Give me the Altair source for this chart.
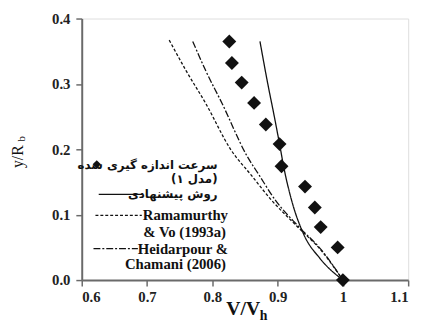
import altair as alt
import pandas as pd

# measured velocity (diamonds)
meas_x = [0.826, 0.830, 0.845, 0.864, 0.882, 0.903, 0.906, 0.942, 0.957, 0.966, 0.992, 1.0]
meas_y = [0.365, 0.332, 0.302, 0.271, 0.238, 0.208, 0.174, 0.143, 0.111, 0.081, 0.050, 0.0]

# proposed method (solid)
prop_x = [0.873, 0.885, 0.895, 0.903, 0.910, 0.922, 0.940, 0.965, 1.0]
prop_y = [0.365, 0.300, 0.250, 0.208, 0.170, 0.120, 0.070, 0.033, 0.0]

# Ramamurthy & Vo (1993a) (dashed)
ram_x = [0.734, 0.760, 0.790, 0.828, 0.860, 0.890, 0.930, 0.967, 1.0]
ram_y = [0.367, 0.320, 0.270, 0.200, 0.160, 0.123, 0.082, 0.045, 0.0]

# Heidarpour & Chamani (2006) (dash-dot)
hei_x = [0.770, 0.790, 0.815, 0.853, 0.872, 0.896, 0.932, 0.968, 1.0]
hei_y = [0.365, 0.320, 0.270, 0.190, 0.160, 0.123, 0.082, 0.045, 0.0]

x_ticks = [0.6, 0.7, 0.8, 0.9, 1.0, 1.1]
y_ticks = [0.0, 0.1, 0.2, 0.3, 0.4]

# legend content (placed in data coordinates)
fa_text = ["سرعت  اندازه  گیری  شده", "(مدل ۱)", "روش پیشنهادی"]
fa_x = [0.808, 0.808, 0.808]
fa_y = [0.176, 0.155, 0.131]
fa_size = [12, 12, 12]

en_text = ["Ramamurthy", "& Vo  (1993a)", "Heidarpour &", "Chamani (2006)"]
en_x = [0.824, 0.821, 0.824, 0.821]
en_y = [0.099, 0.073, 0.048, 0.024]

leg_line_series = ["prop", "prop", "ram", "ram", "hei", "hei"]
leg_line_x = [0.626, 0.693, 0.621, 0.692, 0.618, 0.686]
leg_line_y = [0.131, 0.131, 0.099, 0.099, 0.048, 0.048]

leg_diamond_x = [0.623]
leg_diamond_y = [0.177]

SERIF = "Times New Roman, Liberation Serif, DejaVu Serif, serif"
W, H = 332, 266

xs = alt.Scale(domain=[0.6, 1.1], nice=False, zero=False)
ys = alt.Scale(domain=[0.0, 0.4], nice=False, zero=False)

meas = pd.DataFrame({"x": meas_x, "y": meas_y})
lines = pd.concat([
    pd.DataFrame({"x": prop_x, "y": prop_y, "s": "prop"}),
    pd.DataFrame({"x": ram_x, "y": ram_y, "s": "ram"}),
    pd.DataFrame({"x": hei_x, "y": hei_y, "s": "hei"}),
])
legl = pd.DataFrame({"x": leg_line_x, "y": leg_line_y, "s": leg_line_series})
fa_df = pd.DataFrame({"x": fa_x, "y": fa_y, "t": fa_text, "sz": fa_size})
en_df = pd.DataFrame({"x": en_x, "y": en_y, "t": en_text})
legd = pd.DataFrame({"x": leg_diamond_x, "y": leg_diamond_y})

dash_scale = alt.Scale(domain=["prop", "ram", "hei"],
                       range=[[1, 0], [3, 2], [7, 2, 2, 2]])

x_enc = alt.X("x:Q", scale=xs, axis=alt.Axis(
    values=x_ticks, format="~g", title=None, grid=False,
    labelFont=SERIF, labelFontSize=15, labelFontWeight="bold", labelColor="#222",
    domainColor="#6a6a6a", domainWidth=2, tickColor="#6a6a6a", tickSize=6,
    tickWidth=1.5, labelPadding=4))
y_enc = alt.Y("y:Q", scale=ys, axis=alt.Axis(
    values=y_ticks, format=".1f", title=None, grid=False,
    labelFont=SERIF, labelFontSize=15, labelFontWeight="bold", labelColor="#222",
    domainColor="#6a6a6a", domainWidth=2, tickColor="#6a6a6a", tickSize=6,
    tickWidth=1.5, labelPadding=6))

base_lines = alt.Chart(lines).mark_line(color="#111", strokeWidth=1.3, interpolate="monotone").encode(
    x=x_enc, y=y_enc,
    strokeDash=alt.StrokeDash("s:N", scale=dash_scale, legend=None),
    detail="s:N", order="x:Q")

points = alt.Chart(meas).mark_point(shape="diamond", filled=True, size=200, color="#111", opacity=1).encode(
    x=alt.X("x:Q", scale=xs), y=alt.Y("y:Q", scale=ys))

leg_lines = alt.Chart(legl).mark_line(color="#111", strokeWidth=1.3).encode(
    x=alt.X("x:Q", scale=xs), y=alt.Y("y:Q", scale=ys),
    strokeDash=alt.StrokeDash("s:N", scale=dash_scale, legend=None),
    detail="s:N")

leg_pts = alt.Chart(legd).mark_point(shape="diamond", filled=True, size=70, color="#111", opacity=1).encode(
    x=alt.X("x:Q", scale=xs), y=alt.Y("y:Q", scale=ys))

fa_txt = alt.Chart(fa_df).mark_text(align="right", baseline="middle", font="DejaVu Sans",
                                    fontWeight="bold", color="#111").encode(
    x=alt.X("x:Q", scale=xs), y=alt.Y("y:Q", scale=ys), text="t:N",
    size=alt.Size("sz:Q", scale=None, legend=None))

en_txt = alt.Chart(en_df).mark_text(align="right", baseline="middle", font=SERIF, fontSize=15,
                                    fontWeight="bold", color="#111").encode(
    x=alt.X("x:Q", scale=xs), y=alt.Y("y:Q", scale=ys), text="t:N")

title_df = pd.DataFrame({"a": [0]})
xt1 = alt.Chart(title_df).mark_text(text="V/V", align="left", baseline="alphabetic",
                                    font=SERIF, fontSize=20, fontWeight="bold", color="#111").encode(
    x=alt.value(147), y=alt.value(302))
xt2 = alt.Chart(title_df).mark_text(text="h", align="left", baseline="alphabetic",
                                    font=SERIF, fontSize=14, fontWeight="bold", color="#111").encode(
    x=alt.value(181), y=alt.value(307))
yt1 = alt.Chart(title_df).mark_text(text="y/R", align="left", baseline="middle", angle=270,
                                    font=SERIF, fontSize=16, color="#111").encode(
    x=alt.value(-65), y=alt.value(152))
yt2 = alt.Chart(title_df).mark_text(text="b", align="left", baseline="middle", angle=270,
                                    font=SERIF, fontSize=11, color="#111").encode(
    x=alt.value(-61), y=alt.value(125))

chart = alt.layer(base_lines, points, leg_lines, leg_pts, fa_txt, en_txt, xt1, xt2, yt1, yt2).properties(
    width=W, height=H,
    autosize=alt.AutoSizeParams(type="none"),
    padding={"left": 75, "top": 8, "right": 10, "bottom": 45},
).configure_view(stroke="#6a6a6a", strokeWidth=2).configure(background="white")

chart.save("out.html", embed_options={"renderer": "svg", "actions": False})
